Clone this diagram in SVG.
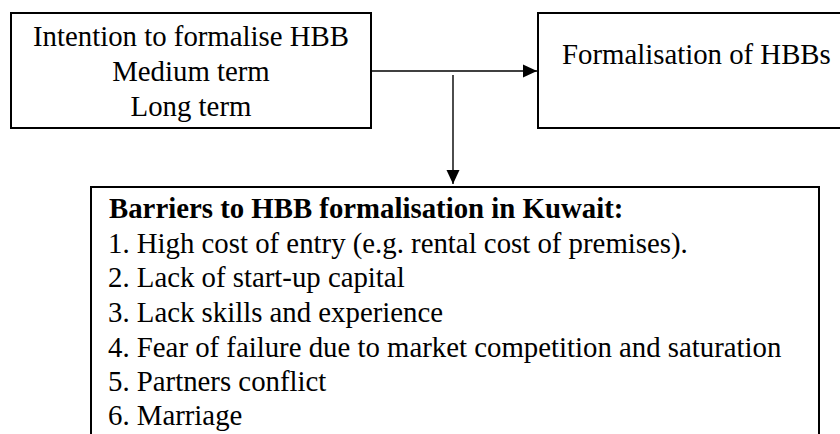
<svg xmlns="http://www.w3.org/2000/svg" width="840" height="434" viewBox="0 0 840 434">
  <defs>
    <marker id="arrow" markerUnits="userSpaceOnUse" markerWidth="14" markerHeight="14" refX="14" refY="7" orient="auto">
      <path d="M0,0.5 L14,7 L0,13.5 z" fill="#000"/>
    </marker>
  </defs>
  <style>
    .box { fill: #fff; stroke: #000; stroke-width: 2; }
    .txt { font-family: "Liberation Serif", "Times New Roman", serif; font-size: 28.8px; fill: #000; }
    .mid { text-anchor: middle; }
    .bold { font-weight: bold; }
    .link { fill: none; stroke: #000; stroke-width: 1.4; }
  </style>
  <rect width="840" height="434" fill="#fff"/>

  <!-- arrows between the three boxes -->
  <g id="connectors">
    <line class="link" x1="371" y1="71" x2="537" y2="71" marker-end="url(#arrow)"/>
    <line class="link" x1="453" y1="75" x2="453" y2="184" marker-end="url(#arrow)"/>
  </g>

  <g id="intention">
    <rect class="box" x="11" y="13" width="360" height="115"/>
    <text class="txt mid" x="191" y="46">Intention to formalise HBB</text>
    <text class="txt mid" x="191" y="81">Medium term</text>
    <text class="txt mid" x="191" y="116">Long term</text>
  </g>

  <g id="formalisation">
    <rect class="box" x="538" y="13" width="320" height="115"/>
    <text class="txt" x="562" y="64">Formalisation of HBBs</text>
  </g>

  <g id="barriers">
    <rect class="box" x="91" y="187" width="728" height="260"/>
    <text class="txt bold" x="109" y="218">Barriers to HBB formalisation in Kuwait:</text>
    <text class="txt" x="108" y="253">1. High cost of entry (e.g. rental cost of premises).</text>
    <text class="txt" x="108" y="287">2. Lack of start-up capital</text>
    <text class="txt" x="108" y="322">3. Lack skills and experience</text>
    <text class="txt" x="108" y="357">4. Fear of failure due to market competition and saturation</text>
    <text class="txt" x="108" y="391">5. Partners conflict</text>
    <text class="txt" x="108" y="425">6. Marriage</text>
  </g>
</svg>
